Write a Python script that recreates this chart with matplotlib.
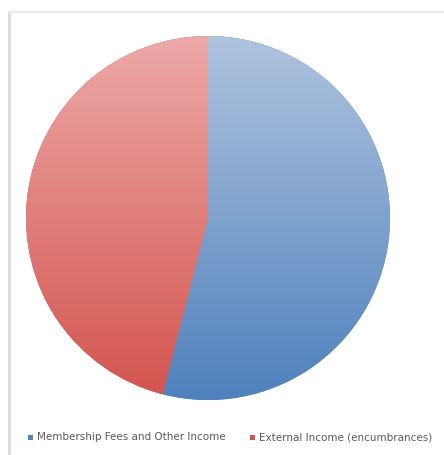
import numpy as np
import matplotlib
matplotlib.use("Agg")
import matplotlib.pyplot as plt
from matplotlib.colors import LinearSegmentedColormap
from matplotlib.lines import Line2D
from matplotlib.patches import Rectangle

# data
labels = ['Membership Fees and Other Income', 'External Income (encumbrances)']
values = [54, 46]
top_colors = ['#AFC3DE', '#EDA9A8']
bottom_colors = ['#4F81BD', '#D3544E']

fig = plt.figure(figsize=(4.44, 4.55), dpi=100)
fig.patch.set_facecolor('white')

# frame (left/top edges only visible)
fig.add_artist(Line2D([9 / 444, 9 / 444], [0, 1 - 12 / 455], color='#D6D6D6', lw=1.8))
fig.add_artist(Line2D([9 / 444, 1], [1 - 12 / 455, 1 - 12 / 455], color='#EAEAEA', lw=1.6))

ax = fig.add_axes([26 / 444, 55 / 455, 364 / 444, 364 / 455])
wedges, _ = ax.pie(values, startangle=90, counterclock=False, radius=1,
                   colors=bottom_colors, wedgeprops=dict(linewidth=0))
ax.set_xlim(-1, 1)
ax.set_ylim(-1, 1)
ax.set_aspect('equal')
ax.axis('off')

# vertical gradient per wedge
grad = np.linspace(0, 1, 256).reshape(-1, 1)
for w, ct, cb in zip(wedges, top_colors, bottom_colors):
    cmap = LinearSegmentedColormap.from_list('g', [cb, ct])
    im = ax.imshow(grad, extent=(-1, 1, -1, 1), origin='lower', cmap=cmap,
                   aspect='auto', zorder=w.get_zorder() + 0.1)
    im.set_clip_path(w)

# legend
ly = 1 - 437 / 455
for x0, lab, col in [(30, labels[0], bottom_colors[0]), (252, labels[1], bottom_colors[1])]:
    fig.add_artist(Rectangle((x0 / 444 - 2.5 / 444, ly - 2.5 / 455), 5 / 444, 5 / 455,
                             transform=fig.transFigure, color=col, lw=0))
    fig.text((x0 + 7) / 444, ly, lab, fontsize=7.5, color='#595959', va='center', ha='left')

fig.savefig('out.png', dpi=100)
